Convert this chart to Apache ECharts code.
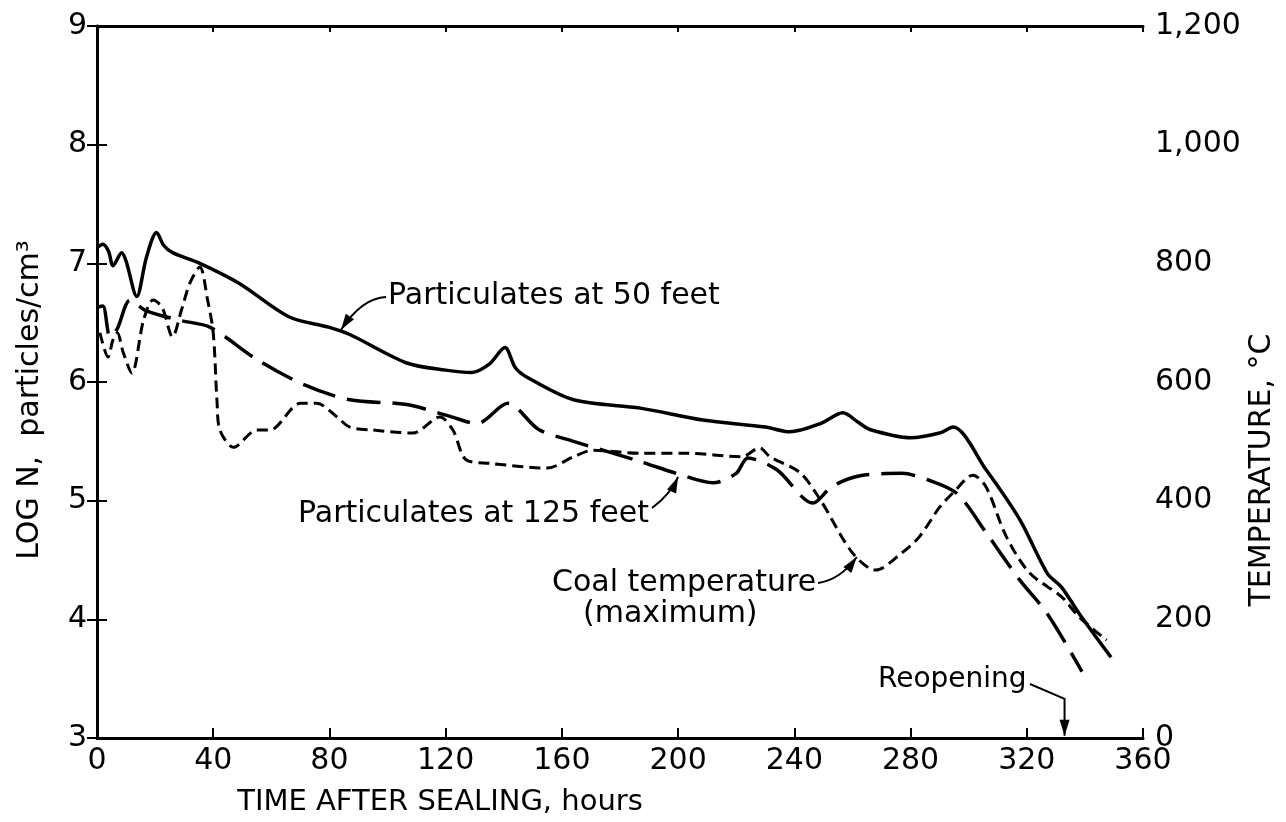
<!DOCTYPE html>
<html>
<head>
<meta charset="utf-8">
<script src="https://cdn.jsdelivr.net/npm/echarts@6/dist/echarts.min.js"></script>
<style>
html, body { margin: 0; padding: 0; background: #fff; }
#chart { width: 1286px; height: 822px; }
</style>
</head>
<body>
<div id="chart"></div>
<script>
// particulates at 50 feet (log N)
const p50Hours = [0, 2, 4, 5.5, 8.5, 10, 13.7, 17, 20.5, 23, 26, 35.4, 49, 66, 80, 87, 106.6, 120, 129, 135, 140.4, 144, 148, 164, 187, 208.5, 230, 238.5, 249, 256.7, 262, 266, 280, 290, 294.6, 306, 317.6, 327, 332, 338, 349];
const p50Log = [7.13, 7.16, 7.1, 6.98, 7.09, 7.02, 6.72, 7.05, 7.26, 7.15, 7.09, 7.0, 6.83, 6.55, 6.46, 6.4, 6.16, 6.1, 6.08, 6.15, 6.29, 6.12, 6.04, 5.85, 5.78, 5.68, 5.62, 5.58, 5.65, 5.74, 5.66, 5.6, 5.53, 5.57, 5.62, 5.26, 4.84, 4.39, 4.27, 4.05, 3.68];

// particulates at 125 feet (log N)
const p125Hours = [0, 2, 4.5, 7, 11.4, 17, 28.5, 39, 55, 71, 87, 106.6, 121.5, 130.8, 141.4, 152, 164, 187, 200.6, 212, 220, 224, 234, 246.4, 253, 262.6, 277, 286.6, 296, 306, 317.6, 327, 339];
const p125Log = [6.63, 6.64, 6.38, 6.45, 6.69, 6.6, 6.52, 6.46, 6.19, 5.98, 5.85, 5.81, 5.71, 5.65, 5.82, 5.6, 5.5, 5.33, 5.22, 5.15, 5.23, 5.36, 5.26, 4.98, 5.12, 5.21, 5.23, 5.17, 5.06, 4.73, 4.33, 4.05, 3.56];

// coal temperature, maximum (deg C)
const tempHours = [1, 3.8, 5.5, 7, 9, 12, 16, 19.3, 22.4, 26, 29, 32, 35.4, 38, 40, 41.3, 42.3, 47, 55, 59.5, 70, 75.7, 82.6, 87, 95, 108.7, 118, 122.5, 127, 135, 155, 164, 170.7, 187, 203, 222, 228, 231.6, 242, 249, 260, 268, 277, 283, 290, 294.6, 301.5, 306, 313, 321, 332, 338, 347.5];
const tempC = [683, 642, 671, 683, 650, 615, 704, 738, 726, 676, 720, 767, 794, 740, 683, 568, 519, 490, 519, 519, 564, 564, 541, 524, 519, 514, 541, 519, 469, 463, 455, 474, 485, 480, 480, 474, 489, 474, 447, 401, 312, 283, 312, 339, 389, 413, 443, 423, 339, 278, 238, 204, 165];

const reopeningHour = 333;

const pairs = (xs, ys) => xs.map((x, i) => [x, ys[i]]);

const font = '"DejaVu Sans", sans-serif';
const black = '#000';
const tickSize = 30;

const chart = echarts.init(document.getElementById('chart'));

const axisCommon = {
  axisLine: { show: true, lineStyle: { color: black, width: 3 } },
  axisTick: { show: true, inside: true, length: 10, lineStyle: { color: black, width: 2 } },
  splitLine: { show: false }
};

const option = {
  animation: false,
  backgroundColor: '#fff',
  grid: { left: 97, right: 143, top: 26, bottom: 84 },
  xAxis: [
    Object.assign({}, axisCommon, {
      type: 'value', min: 0, max: 360, interval: 40,
      axisLabel: { color: black, fontSize: tickSize, fontFamily: font, margin: 8 }
    }),
    Object.assign({}, axisCommon, {
      type: 'value', position: 'top', min: 0, max: 360, interval: 40,
      axisLabel: { show: false },
      axisTick: { show: true, inside: true, length: 6, lineStyle: { color: black, width: 2 } }
    })
  ],
  yAxis: [
    Object.assign({}, axisCommon, {
      type: 'value', min: 3, max: 9, interval: 1,
      axisLabel: { color: black, fontSize: tickSize, fontFamily: font, margin: 10 }
    }),
    Object.assign({}, axisCommon, {
      type: 'value', position: 'right', min: 0, max: 1200, interval: 200,
      axisLabel: {
        color: black, fontSize: tickSize, fontFamily: font, margin: 12,
        formatter: v => v.toLocaleString('en-US')
      }
    })
  ],
  series: [
    {
      name: 'Particulates at 50 feet',
      type: 'line',
      data: pairs(p50Hours, p50Log),
      showSymbol: false,
      smooth: 0.3,
      lineStyle: { color: black, width: 3.5, type: 'solid' }
    },
    {
      name: 'Particulates at 125 feet',
      type: 'line',
      data: pairs(p125Hours, p125Log),
      showSymbol: false,
      smooth: 0.3,
      lineStyle: { color: black, width: 3.5, type: [34, 12] }
    },
    {
      name: 'Coal temperature (maximum)',
      type: 'line',
      yAxisIndex: 1,
      data: pairs(tempHours, tempC),
      showSymbol: false,
      smooth: 0.3,
      lineStyle: { color: black, width: 3, type: [11, 6] }
    }
  ]
};

chart.setOption(option);

// annotations: text + arrows pointing at the curves
function px(x, y, axis) {
  return chart.convertToPixel({ xAxisIndex: 0, yAxisIndex: axis || 0 }, [x, y]);
}

function arrowHead(tip, from, len, half) {
  const dx = tip[0] - from[0], dy = tip[1] - from[1];
  const d = Math.hypot(dx, dy);
  const ux = dx / d, uy = dy / d;
  const bx = tip[0] - ux * len, by = tip[1] - uy * len;
  return {
    type: 'polygon',
    shape: { points: [tip, [bx - uy * half, by + ux * half], [bx + uy * half, by - ux * half]] },
    style: { fill: black }
  };
}

function curveArrow(start, ctrl, tip) {
  return [
    {
      type: 'bezierCurve',
      shape: { x1: start[0], y1: start[1], cpx1: ctrl[0], cpy1: ctrl[1], x2: tip[0], y2: tip[1] },
      style: { stroke: black, lineWidth: 2, fill: null }
    },
    arrowHead(tip, ctrl, 16, 5)
  ];
}

function label(text, x, y, align, size) {
  return {
    type: 'text', x: x, y: y,
    style: {
      text: text, fill: black, font: (size || 30) + 'px ' + font,
      textAlign: align || 'left', textVerticalAlign: 'middle'
    }
  };
}

const tip50 = px(84, 6.44);
const tip125 = px(200, 5.2);
const tipTemp = px(261.5, 305, 1);
const reTop = px(reopeningHour, 3.33);
const reBottom = px(reopeningHour, 3.02);

const graphics = []
  .concat(label('Particulates at 50 feet', 388, 296))
  .concat(curveArrow([386, 297], [362, 298], tip50))
  .concat(label('Particulates at 125 feet', 298, 514))
  .concat(curveArrow([652, 508], [670, 495], tip125))
  .concat(label('Coal temperature', 552, 583))
  .concat(label('(maximum)', 583, 614))
  .concat(curveArrow([818, 583], [840, 580], tipTemp))
  .concat(label('Reopening', 878, 680, 'left', 28))
  .concat([
    {
      type: 'polyline',
      shape: { points: [[1030, 684], reTop, reBottom] },
      style: { stroke: black, lineWidth: 2, fill: null }
    },
    arrowHead(reBottom, reTop, 16, 5)
  ])
  .concat([
    {
      type: 'text', x: 30, y: 400, rotation: Math.PI / 2,
      style: {
        text: 'LOG N,  particles/cm³', fill: black, font: '30px ' + font,
        textAlign: 'center', textVerticalAlign: 'middle'
      }
    },
    {
      type: 'text', x: 1262, y: 470, rotation: Math.PI / 2,
      style: {
        text: 'TEMPERATURE, °C', fill: black, font: '30px ' + font,
        textAlign: 'center', textVerticalAlign: 'middle'
      }
    },
    label('TIME AFTER SEALING, hours', 440, 802, 'center', 29)
  ]);

chart.setOption({ graphic: graphics });
</script>
</body>
</html>
